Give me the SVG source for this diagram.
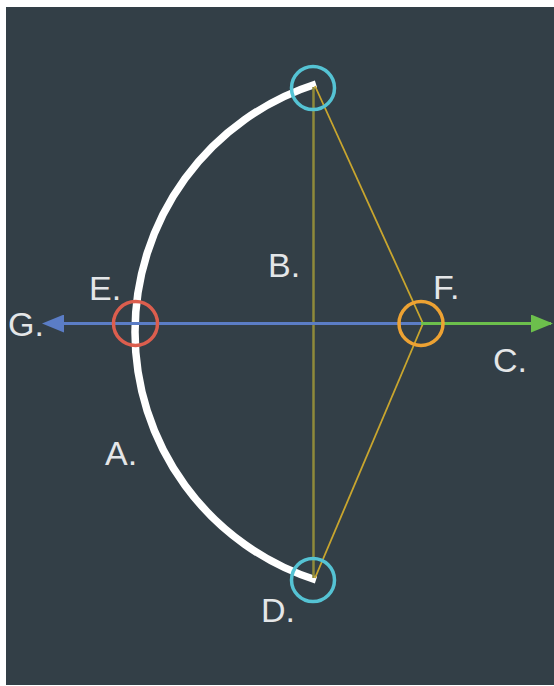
<svg xmlns="http://www.w3.org/2000/svg" width="554" height="686" viewBox="0 0 554 686">
<style>
.lbl{font-family:"Liberation Sans",Arial,sans-serif;font-size:34px;fill:#e4e6e8}
.ring{fill:none;stroke-width:3.5}
</style>
<defs>
<marker id="ab" viewBox="0 0 22 18" refX="2" refY="9" markerUnits="userSpaceOnUse" markerWidth="22" markerHeight="18" orient="auto-start-reverse"><path d="M0,0 L22,9 L0,18 z" fill="#5b7dc6"/></marker>
<marker id="ag" viewBox="0 0 22 18" refX="20" refY="9" markerUnits="userSpaceOnUse" markerWidth="22" markerHeight="18" orient="auto"><path d="M0,0 L22,9 L0,18 z" fill="#6cbf4c"/></marker>
</defs>
<rect x="0" y="0" width="554" height="686" fill="#ffffff"/>
<rect x="6" y="7" width="548" height="678" fill="#333f47"/>
<g id="bow">
<path d="M316,84 A260.4,260.4 0 0 0 316,580" fill="none" stroke="#ffffff" stroke-width="7.5"/>
<text class="lbl" x="105" y="465">A.</text>
</g>
<g id="connectors">
<line x1="313.5" y1="87" x2="313.5" y2="578" stroke="#8f8a3a" stroke-width="2.5"/>
<line x1="315" y1="86" x2="423" y2="323.5" stroke="#c9a62e" stroke-width="1.8"/>
<line x1="423" y1="323.5" x2="315" y2="578" stroke="#c9a62e" stroke-width="1.8"/>
<line x1="421" y1="323.5" x2="62" y2="323.5" stroke="#5b7dc6" stroke-width="3" marker-end="url(#ab)"/>
<line x1="421" y1="323.5" x2="551" y2="323.5" stroke="#6cbf4c" stroke-width="3" marker-end="url(#ag)"/>
</g>
<g id="node-top"><circle class="ring" cx="313" cy="88" r="21.5" stroke="#55c3d4"/></g>
<g id="node-bottom"><circle class="ring" cx="313" cy="580" r="21.5" stroke="#55c3d4"/><text class="lbl" x="261" y="622">D.</text></g>
<g id="node-E"><circle class="ring" cx="135.5" cy="323.5" r="22" stroke="#dc5e4e"/><text class="lbl" x="89" y="300">E.</text></g>
<g id="node-F"><circle class="ring" cx="421" cy="323.5" r="22" stroke="#eda233"/><text class="lbl" x="433" y="299">F.</text></g>
<g id="labels">
<text class="lbl" x="268" y="277">B.</text>
<text class="lbl" x="8" y="336">G.</text>
<text class="lbl" x="493" y="372">C.</text>
</g>
</svg>
